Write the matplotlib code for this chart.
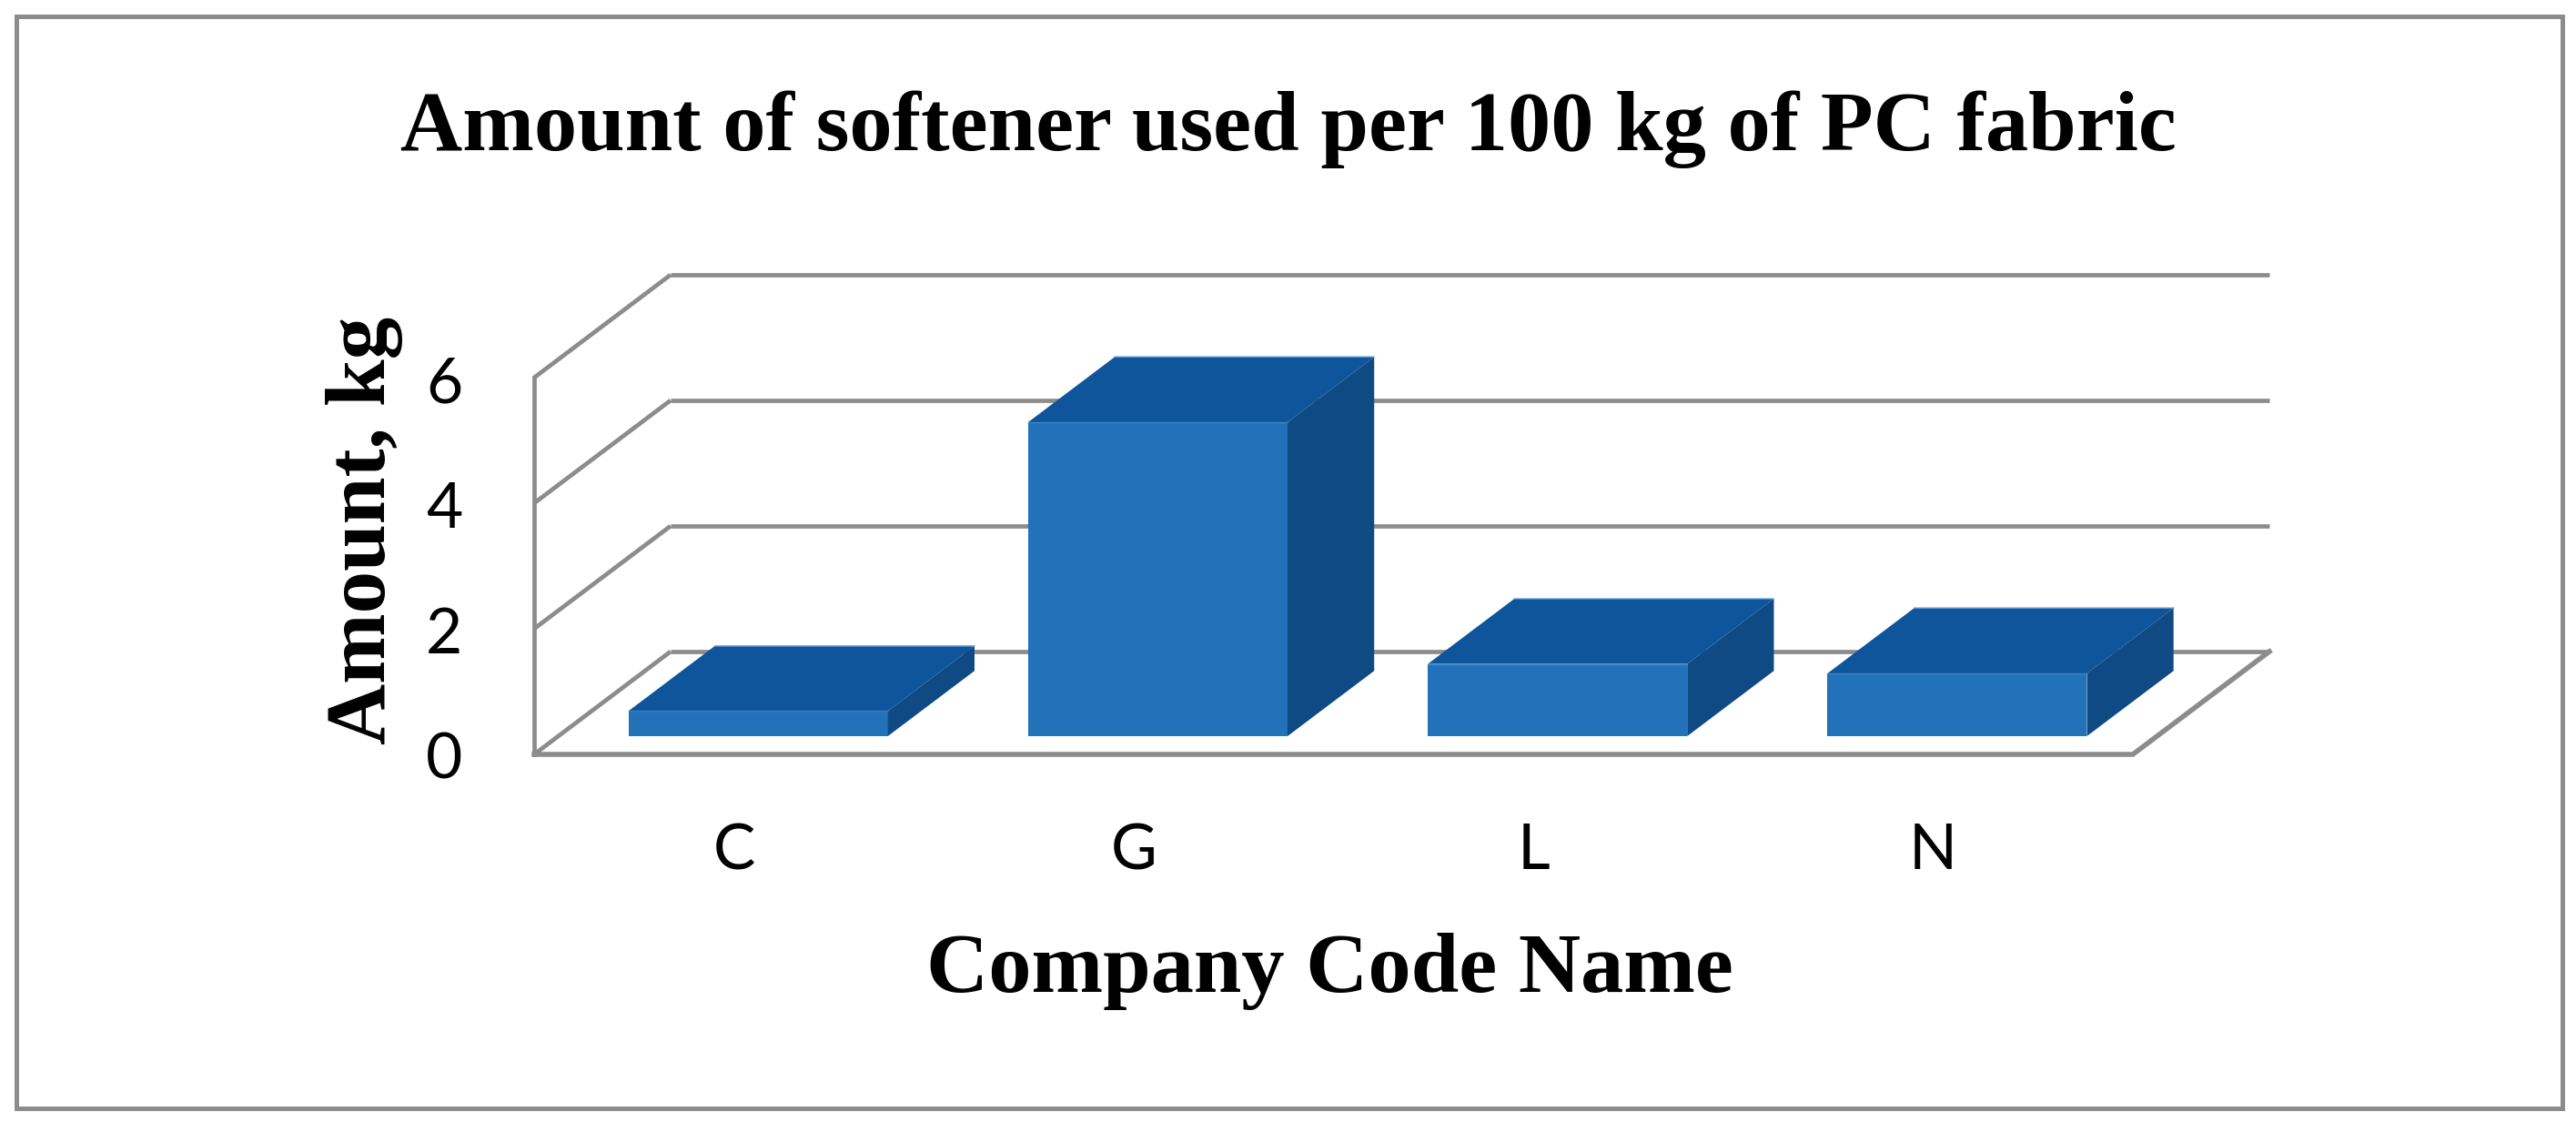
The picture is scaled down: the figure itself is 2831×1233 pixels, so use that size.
import matplotlib
matplotlib.use("Agg")
import matplotlib.pyplot as plt
from matplotlib.patches import Polygon, Rectangle
import matplotlib.transforms as mtransforms

# ---- data ----
categories = ["C", "G", "L", "N"]
values = [0.4, 5.0, 1.15, 1.0]
y_ticks = [0, 2, 4, 6]
y_tick_labels = ["0", "2", "4", "6"]
title = "Amount of softener used per 100 kg of PC fabric"
x_label = "Company Code Name"
y_label = "Amount, kg"

# ---- figure ----
W, H = 2831, 1233
DPI = 100
fig = plt.figure(figsize=(W / DPI, H / DPI), dpi=DPI)
fig.patch.set_facecolor("white")

# front plane of plot: x 0..4 (categories), y 0..6 (values)
ax = fig.add_axes([587 / W, (H - 829) / H, (2344 - 587) / W, (829 - 415) / H])
ax.set_xlim(0, len(categories))
ax.set_ylim(0, 6)
ax.axis("off")

# oblique depth offset (in data units) for full depth
DX = 150 / 439.25
DY = 113 / 69.0

GRID = "#8c8c8c"
GLW = 3.4
n = len(categories)

# side wall diagonals + back wall gridlines
for t in y_ticks:
    ax.plot([0, DX], [t, t + DY], color=GRID, lw=GLW, clip_on=False,
            solid_capstyle="butt", zorder=1)
    ax.plot([DX, n + DX], [t + DY, t + DY], color=GRID, lw=GLW, clip_on=False,
            solid_capstyle="butt", zorder=1)
# front vertical axis
ax.plot([0, 0], [0, y_ticks[-1]], color=GRID, lw=GLW, clip_on=False, zorder=1)
# floor front and right edges
ax.plot([0, n, n + DX], [0, 0, DY], color=GRID, lw=GLW + 0.6, clip_on=False,
        solid_joinstyle="miter", zorder=1)

# bars
FRONT = "#2272ba"
TOP = "#0e559b"
SIDE = "#0f4a84"
EDGE = "#6aa5dc"
bw = 0.649
d0, d1 = 0.177, 0.812
for i, v in enumerate(values):
    xl = i + (1 - bw) / 2
    xr = xl + bw
    fx, fy = d0 * DX, d0 * DY
    bx, by = d1 * DX, d1 * DY
    front = [(xl + fx, fy), (xr + fx, fy), (xr + fx, v + fy), (xl + fx, v + fy)]
    top = [(xl + fx, v + fy), (xr + fx, v + fy), (xr + bx, v + by), (xl + bx, v + by)]
    side = [(xr + fx, fy), (xr + bx, by), (xr + bx, v + by), (xr + fx, v + fy)]
    for pts, c in ((front, FRONT), (top, TOP), (side, SIDE)):
        ax.add_patch(Polygon(pts, closed=True, facecolor=c, edgecolor="none",
                             clip_on=False, zorder=2))
    ax.plot([xl + bx, xr + bx], [v + by, v + by], color=EDGE, lw=1.2,
            alpha=0.7, clip_on=False, zorder=3)
    ax.plot([xl + fx, xr + fx], [v + fy, v + fy], color=EDGE, lw=1.0,
            alpha=0.4, clip_on=False, zorder=3)

# tick labels
px = 72.0 / DPI
tick_font = dict(family="Lato", fontsize=50, color="black")
for t, lab in zip(y_ticks, y_tick_labels):
    tr = ax.transData + mtransforms.ScaledTranslation(-79 * px / 72, -27 * px / 72,
                                                       fig.dpi_scale_trans)
    ax.text(0, t, lab, transform=tr, ha="right", va="baseline", clip_on=False,
            **tick_font)
for i, lab in enumerate(categories):
    tr = ax.transData + mtransforms.ScaledTranslation(0, -126 * px / 72,
                                                       fig.dpi_scale_trans)
    ax.text(i + 0.5, 0, lab, transform=tr, ha="center", va="baseline",
            clip_on=False, **tick_font)

serif = dict(family="Liberation Serif", fontweight="bold", color="black")
fig.text(1416 / W, 1 - 165 / H, title, ha="center", va="baseline",
         fontsize=68, **serif)
fig.text(1461 / W, 1 - 1090 / H, x_label, ha="center", va="baseline",
         fontsize=68, **serif)
fig.text(423 / W, 1 - 583 / H, y_label, ha="center", va="baseline",
         rotation=90, rotation_mode="anchor", fontsize=67, **serif)

# chart border
fig.add_artist(Rectangle((17.5 / W, 1 - 1218 / H), (2816 - 17.5) / W,
                         (1218 - 17.5) / H, transform=fig.transFigure,
                         fill=False, edgecolor="#8c8c8c", lw=5 * px))

fig.savefig("out.png", dpi=DPI, facecolor="white")
